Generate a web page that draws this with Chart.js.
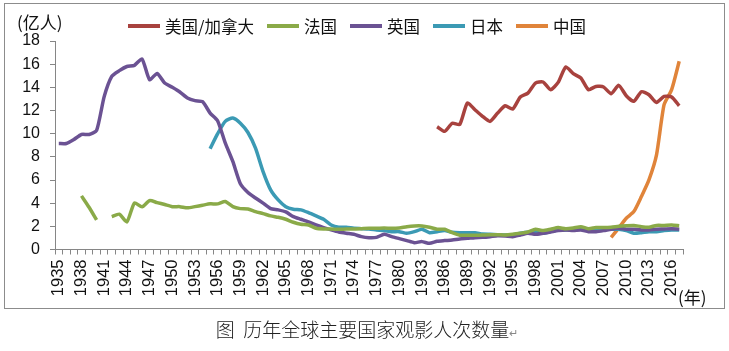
<!DOCTYPE html>
<html lang="zh">
<head>
    <meta charset="UTF-8">
    <title>历年全球主要国家观影人次数量</title>
    <script src="https://cdn.jsdelivr.net/npm/chart.js@4.4.1/dist/chart.umd.min.js"></script>
    <style>
        body {
            margin: 0;
            padding: 0;
            background: #ffffff;
            font-family: "Noto Sans CJK SC", "Liberation Sans", sans-serif;
        }
        #page {
            position: relative;
            width: 729px;
            height: 351px;
            overflow: hidden;
        }
        #frame {
            position: absolute;
            left: 4px;
            top: 3px;
            width: 719px;
            height: 304px;
            border: 1px solid #8c8c8c;
        }
        #chart {
            position: absolute;
            left: 0;
            top: 0;
        }
        .txt {
            position: absolute;
            color: #111;
            white-space: nowrap;
            line-height: 1;
        }
        #unit { left: 17px; top: 13px; font-size: 17px; }
        #yearUnit { left: 678px; top: 288px; font-size: 17px; }
        #legend {
            position: absolute;
            left: 128px;
            top: 18px;
            display: flex;
            align-items: center;
            font-size: 16.5px;
            line-height: 1;
            color: #111;
        }
        .item { display: flex; align-items: center; margin-right: 13px; }
        .swatch { width: 32px; height: 4px; margin-right: 5px; }
        #caption {
            position: absolute;
            left: 0;
            width: 734px;
            top: 315px;
            text-align: center;
            font-size: 19px;
            font-weight: 300;
            color: #222;
        }
        #caption span { font-size: 11px; color: #888; }
    </style>
</head>
<body>
<div id="page">
    <div id="frame"></div>
    <canvas id="chart" width="729" height="351"></canvas>
    <div class="txt" id="unit">(亿人)</div>
    <div class="txt" id="yearUnit">(年)</div>
    <div id="legend"></div>
    <div id="caption">图&nbsp;&nbsp;历年全球主要国家观影人次数量<span>↵</span></div>
</div>

<script>
// years on the category axis
const years = [
    1935, 1936, 1937, 1938, 1939, 1940, 1941, 1942, 1943, 1944, 1945, 1946, 1947, 1948, 1949,
    1950, 1951, 1952, 1953, 1954, 1955, 1956, 1957, 1958, 1959, 1960, 1961, 1962, 1963, 1964,
    1965, 1966, 1967, 1968, 1969, 1970, 1971, 1972, 1973, 1974, 1975, 1976, 1977, 1978, 1979,
    1980, 1981, 1982, 1983, 1984, 1985, 1986, 1987, 1988, 1989, 1990, 1991, 1992, 1993, 1994,
    1995, 1996, 1997, 1998, 1999, 2000, 2001, 2002, 2003, 2004, 2005, 2006, 2007, 2008, 2009,
    2010, 2011, 2012, 2013, 2014, 2015, 2016, 2017
];

// admissions, 100 million people; each series starts at its own first year
const usStart = 1985;
const usValues = [10.6, 10.2, 10.9, 10.8, 12.65, 12.07, 11.5, 11.06, 11.78, 12.41, 12.13, 13.17, 13.5,
    14.37, 14.46, 13.8, 14.43, 15.76, 15.18, 14.81, 13.8, 14.08, 14.03, 13.45, 14.17, 13.28, 12.79,
    13.62, 13.36, 12.7, 13.22, 13.17, 12.41];

const franceStart = 1938;
const franceValues = [4.63, 3.65, 2.55, null, 2.84, 3.05, 2.38, 4.02, 3.68, 4.22, 4.05, 3.88, 3.7, 3.7,
    3.6, 3.7, 3.82, 3.94, 3.94, 4.14, 3.7, 3.53, 3.5, 3.27, 3.1, 2.9, 2.78, 2.61, 2.35, 2.18, 2.12,
    1.83, 1.77, 1.77, 1.74, 1.77, 1.77, 1.8, 1.83, 1.83, 1.86, 1.83, 1.86, 1.97, 2.03, 2.03, 1.92,
    1.75, 1.75, 1.45, 1.23, 1.23, 1.23, 1.25, 1.28, 1.28, 1.25, 1.31, 1.4, 1.51, 1.75, 1.63, 1.75,
    1.89, 1.8, 1.86, 1.97, 1.8, 1.89, 1.89, 1.92, 2.0, 2.05, 2.08, 1.97, 1.92, 2.08, 2.08, 2.11, 2.05];

const ukStart = 1935;
const ukValues = [9.15, 9.15, 9.5, 9.93, 9.93, 10.28, 13.2, 14.95, 15.44, 15.8, 15.9, 16.45, 14.66,
    15.2, 14.37, 14.0, 13.6, 13.08, 12.85, 12.76, 11.78, 11.1, 9.2, 7.6, 5.67, 4.92, 4.45, 4.0, 3.53,
    3.42, 3.24, 2.84, 2.61, 2.38, 2.12, 1.89, 1.69, 1.51, 1.4, 1.31, 1.11, 1.02, 1.05, 1.31, 1.11,
    0.94, 0.77, 0.59, 0.68, 0.53, 0.71, 0.77, 0.82, 0.91, 0.96, 1.02, 1.05, 1.11, 1.19, 1.17, 1.11,
    1.25, 1.4, 1.31, 1.4, 1.51, 1.63, 1.69, 1.63, 1.69, 1.54, 1.54, 1.63, 1.75, 1.83, 1.75, 1.75,
    1.69, 1.69, 1.75, 1.77, 1.8, 1.75];

const japanStart = 1955;
const japanValues = [8.7, 10.0, 11.06, 11.35, 10.9, 10.1, 8.75, 6.73, 5.15, 4.28, 3.7, 3.48, 3.42,
    3.18, 2.9, 2.61, 2.12, 1.92, 1.92, 1.83, 1.8, 1.77, 1.69, 1.63, 1.54, 1.54, 1.4, 1.54, 1.75,
    1.45, 1.54, 1.63, 1.48, 1.45, 1.45, 1.45, 1.34, 1.31, 1.28, 1.25, 1.28, 1.4, 1.48, 1.48, 1.4,
    1.54, 1.69, 1.69, 1.75, 1.75, 1.75, 1.75, 1.75, 1.75, 1.75, 1.63, 1.4, 1.45, 1.54, 1.54, 1.63,
    1.69, 1.69];

const chinaStart = 2008;
const chinaValues = [1.05, 1.85, 2.7, 3.27, 4.57, 6.01, 8.17, 12.5, 13.8, 16.25];

const seriesNames = ['美国/加拿大', '法国', '英国', '日本', '中国'];
const seriesColors = ['#a8423e', '#8aaa48', '#6b5293', '#3b9ab4', '#e0843a'];

// pad a series with nulls so it lines up with the year axis
function alignToYears(start, values) {
    const out = years.map(() => null);
    values.forEach((v, i) => { out[years.indexOf(start) + i] = v; });
    return out;
}

const seriesData = [
    alignToYears(usStart, usValues),
    alignToYears(franceStart, franceValues),
    alignToYears(ukStart, ukValues),
    alignToYears(japanStart, japanValues),
    alignToYears(chinaStart, chinaValues)
];

// legend in the top row
const legend = document.getElementById('legend');
seriesNames.forEach((name, i) => {
    const item = document.createElement('div');
    item.className = 'item';
    item.innerHTML = '<div class="swatch" style="background:' + seriesColors[i] + '"></div>' + name;
    legend.appendChild(item);
});

const axisGray = '#868686';

new Chart(document.getElementById('chart'), {
    type: 'line',
    data: {
        labels: years.map(String),
        datasets: seriesNames.map((name, i) => ({
            label: name,
            data: seriesData[i],
            borderColor: seriesColors[i],
            backgroundColor: seriesColors[i],
            borderWidth: 3.5,
            pointRadius: 0,
            tension: 0.2,
            spanGaps: false
        }))
    },
    options: {
        responsive: false,
        animation: false,
        layout: { padding: { top: 41, right: 46, bottom: 0, left: 0 } },
        plugins: {
            legend: { display: false },
            tooltip: { enabled: false }
        },
        scales: {
            x: {
                type: 'category',
                offset: true,
                afterFit: (scale) => { scale.height = 101.5; },
                grid: {
                    offset: true,
                    drawOnChartArea: false,
                    drawTicks: true,
                    tickLength: 5,
                    color: axisGray
                },
                border: { display: true, color: axisGray, width: 1 },
                ticks: {
                    autoSkip: false,
                    maxRotation: 90,
                    minRotation: 90,
                    padding: 5,
                    color: '#111',
                    font: { family: 'Liberation Sans', size: 16.5 },
                    callback: function (value, index) {
                        return (years[index] - years[0]) % 3 === 0 ? String(years[index]) : '';
                    }
                }
            },
            y: {
                min: 0,
                max: 18,
                afterFit: (scale) => { scale.width = 55; },
                grid: {
                    drawOnChartArea: false,
                    drawTicks: true,
                    tickLength: 5,
                    color: axisGray
                },
                border: { display: true, color: axisGray, width: 1 },
                ticks: {
                    stepSize: 2,
                    padding: 10,
                    color: '#111',
                    font: { family: 'Liberation Sans', size: 16 }
                }
            }
        }
    }
});
</script>
</body>
</html>
